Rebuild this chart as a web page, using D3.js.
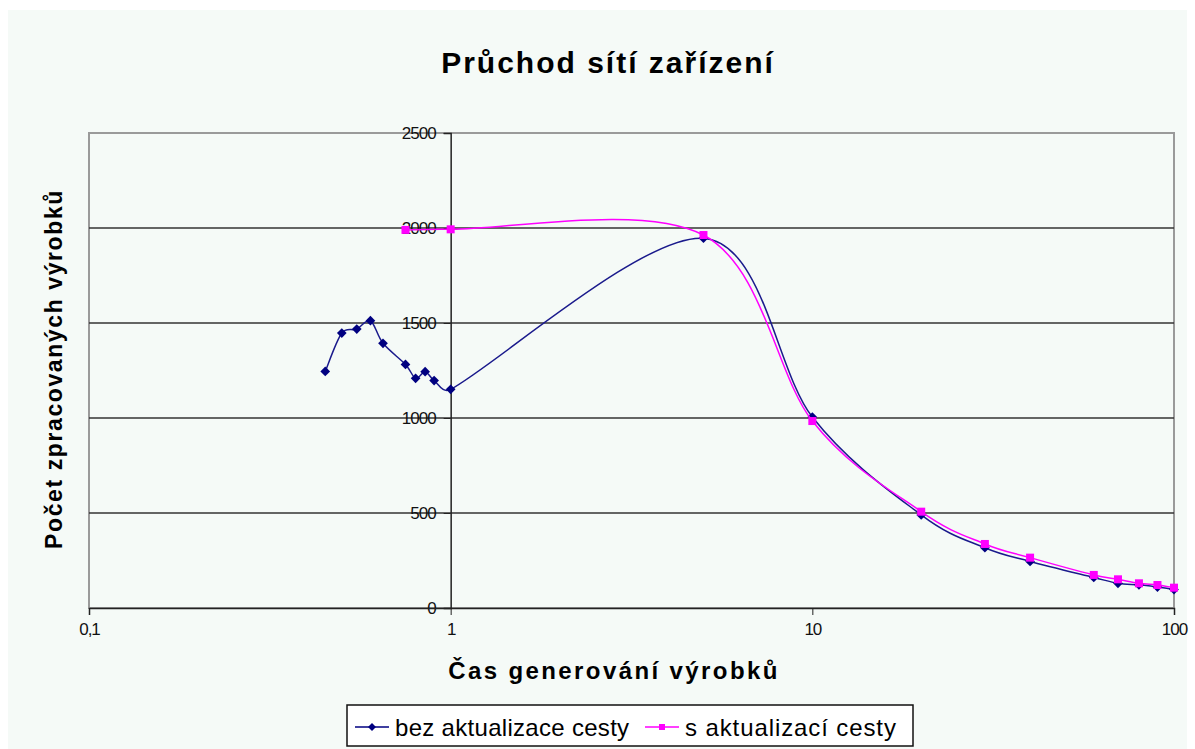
<!DOCTYPE html>
<html>
<head>
<meta charset="utf-8">
<script src="https://cdn.jsdelivr.net/npm/d3@7"></script>
<style>
  body { margin: 0; background: #ffffff; }
  svg { display: block; font-family: "Liberation Sans", Arial, sans-serif; }
</style>
</head>
<body>
<div id="chart"></div>
<script>
// series: "bez aktualizace cesty"
const blueX = [0.45, 0.5, 0.55, 0.6, 0.65, 0.75, 0.8, 0.85, 0.9, 1, 5, 10, 20, 30, 40, 60, 70, 80, 90, 100];
const blueY = [1245, 1447, 1468, 1512, 1393, 1282, 1209, 1244, 1197, 1151, 1946, 1005, 490, 317, 245, 161, 130, 122, 110, 97];

// series: "s aktualizací cesty"
const pinkX = [0.75, 1, 5, 10, 20, 30, 40, 60, 70, 80, 90, 100];
const pinkY = [1990, 1993, 1963, 984, 507, 337, 265, 174, 151, 130, 121, 107];

const xTicks = [0.1, 1, 10, 100];
const xTickLabels = ["0,1", "1", "10", "100"];
const yTicks = [0, 500, 1000, 1500, 2000, 2500];

const seriesNames = ["bez aktualizace cesty", "s aktualizací cesty"];

const W = 1195, H = 749;
const margin = {top: 133, right: 21, bottom: 141, left: 89};

// Spreadsheet-style smoothing: bezier with 1/6 tangents, limited to half the segment
function smoothCurve(context) {
    let pts;
    return {
        areaStart() {}, areaEnd() {},
        lineStart() { pts = []; },
        point(x, y) { pts.push([+x, +y]); },
        lineEnd() {
            if (!pts.length) return;
            const dist = (a, b) => Math.hypot(a[0] - b[0], a[1] - b[1]);
            context.moveTo(pts[0][0], pts[0][1]);
            for (let i = 0; i < pts.length - 1; i++) {
                const p0 = pts[i - 1] || pts[i], p1 = pts[i], p2 = pts[i + 1], p3 = pts[i + 2] || pts[i + 1];
                const d02 = dist(p0, p2), d12 = dist(p1, p2), d13 = dist(p1, p3);
                let f0 = 1 / 6, f1 = 1 / 6;
                if (d02 / 6 >= d12 / 2 && d02 > 0) f0 = d12 / d02 / 2;
                if (d13 / 6 >= d12 / 2 && d13 > 0) f1 = d12 / d13 / 2;
                context.bezierCurveTo(
                    p1[0] + f0 * (p2[0] - p0[0]), p1[1] + f0 * (p2[1] - p0[1]),
                    p2[0] - f1 * (p3[0] - p1[0]), p2[1] - f1 * (p3[1] - p1[1]),
                    p2[0], p2[1]);
            }
        }
    };
}

const svg = d3.select("#chart").append("svg")
    .attr("width", W)
    .attr("height", H);

// chart background
svg.append("rect")
    .attr("x", 8).attr("y", 10)
    .attr("width", W - 16).attr("height", H - 10)
    .attr("fill", "#f5faf7");

const x = d3.scaleLog()
    .domain([0.1, 100])
    .range([margin.left, W - margin.right]);

const y = d3.scaleLinear()
    .domain([0, 2500])
    .range([H - margin.bottom, margin.top]);

// plot area border
svg.append("rect")
    .attr("x", x(0.1))
    .attr("y", y(2500))
    .attr("width", x(100) - x(0.1))
    .attr("height", y(0) - y(2500))
    .attr("fill", "none")
    .attr("stroke", "#9a9a9a")
    .attr("stroke-width", 2);

// horizontal gridlines
svg.selectAll(".grid")
    .data(yTicks.filter(d => d > 0 && d < 2500))
    .enter()
    .append("line")
    .attr("x1", x(0.1))
    .attr("x2", x(100))
    .attr("y1", d => y(d))
    .attr("y2", d => y(d))
    .attr("stroke", "#333")
    .attr("stroke-width", 1.5);

// Y axis crosses at x = 1
const yAxis = svg.append("g")
    .attr("transform", `translate(${x(1)},0)`)
    .call(d3.axisLeft(y).tickValues(yTicks).tickSize(7).tickPadding(8).tickFormat(d3.format("d")));
yAxis.select(".domain").attr("stroke", "#222").attr("stroke-width", 1.5);
yAxis.selectAll(".tick line").attr("stroke", "#222");
yAxis.selectAll("text")
    .style("font-size", "17px")
    .style("letter-spacing", "-1px")
    .attr("fill", "#111");

// X axis
const xAxis = svg.append("g")
    .attr("transform", `translate(0,${y(0)})`)
    .call(d3.axisBottom(x).tickValues(xTicks).tickSize(7).tickPadding(8)
        .tickFormat((d, i) => xTickLabels[i]));
xAxis.select(".domain").attr("stroke", "#222").attr("stroke-width", 1.5);
xAxis.selectAll(".tick line").attr("stroke", "#222");
xAxis.selectAll("text")
    .style("font-size", "17px")
    .style("letter-spacing", "-1px")
    .attr("fill", "#111");

// Lines (smoothed)
const line = d3.line()
    .x(d => x(d[0]))
    .y(d => y(d[1]))
    .curve(smoothCurve);

const blueData = blueX.map((v, i) => [v, blueY[i]]);
const pinkData = pinkX.map((v, i) => [v, pinkY[i]]);

const diamond = d3.symbol().type(d3.symbolDiamond2).size(60);

svg.append("path")
    .datum(blueData)
    .attr("d", line)
    .attr("fill", "none")
    .attr("stroke", "#1a1a8c")
    .attr("stroke-width", 1.5);

svg.selectAll(".blueMark")
    .data(blueData)
    .enter()
    .append("path")
    .attr("d", diamond)
    .attr("transform", d => `translate(${x(d[0])},${y(d[1])})`)
    .attr("fill", "#000080");

svg.append("path")
    .datum(pinkData)
    .attr("d", line)
    .attr("fill", "none")
    .attr("stroke", "#ff00ff")
    .attr("stroke-width", 1.5);

svg.selectAll(".pinkMark")
    .data(pinkData)
    .enter()
    .append("rect")
    .attr("x", d => x(d[0]) - 4)
    .attr("y", d => y(d[1]) - 4)
    .attr("width", 8)
    .attr("height", 8)
    .attr("fill", "#ff00ff");

// Titles
svg.append("text")
    .attr("x", 608)
    .attr("y", 73)
    .attr("text-anchor", "middle")
    .style("font-size", "30px")
    .style("font-weight", "bold")
    .style("letter-spacing", "2px")
    .text("Průchod sítí zařízení");

svg.append("text")
    .attr("transform", "translate(62,369) rotate(-90)")
    .attr("text-anchor", "middle")
    .style("font-size", "23px")
    .style("font-weight", "bold")
    .style("letter-spacing", "1.6px")
    .text("Počet zpracovaných výrobků");

svg.append("text")
    .attr("x", 614)
    .attr("y", 679)
    .attr("text-anchor", "middle")
    .style("font-size", "24px")
    .style("font-weight", "bold")
    .style("letter-spacing", "2.4px")
    .text("Čas generování výrobků");

// Legend
const legend = svg.append("g");
legend.append("rect")
    .attr("x", 347).attr("y", 705)
    .attr("width", 566).attr("height", 41)
    .attr("fill", "#ffffff")
    .attr("stroke", "#111")
    .attr("stroke-width", 1.5);

const legendItems = [
    {name: seriesNames[0], color: "#000080", lx: 355, shape: "diamond"},
    {name: seriesNames[1], color: "#ff00ff", lx: 645, shape: "square"}
];
legendItems.forEach(it => {
    legend.append("line")
        .attr("x1", it.lx).attr("x2", it.lx + 34)
        .attr("y1", 727).attr("y2", 727)
        .attr("stroke", it.color)
        .attr("stroke-width", 1.5);
    if (it.shape === "diamond") {
        legend.append("path")
            .attr("d", d3.symbol().type(d3.symbolDiamond2).size(40))
            .attr("transform", `translate(${it.lx + 17},727)`)
            .attr("fill", it.color);
    } else {
        legend.append("rect")
            .attr("x", it.lx + 14).attr("y", 724)
            .attr("width", 6).attr("height", 6)
            .attr("fill", it.color);
    }
    legend.append("text")
        .attr("x", it.lx + 40)
        .attr("y", 736)
        .style("font-size", "24px")
        .style("letter-spacing", it.shape === "diamond" ? "0.3px" : "0.9px")
        .text(it.name);
});
</script>
</body>
</html>
